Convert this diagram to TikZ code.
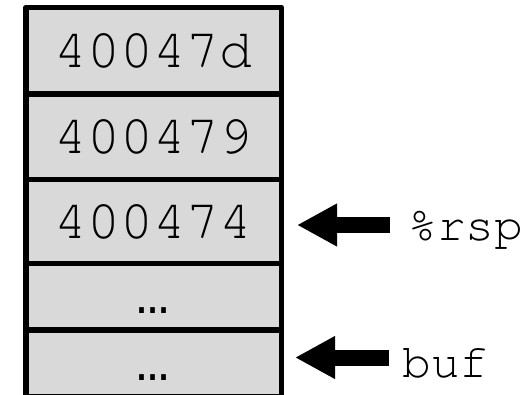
\documentclass[tikz,border=0pt]{standalone}
\usepackage[T1]{fontenc}
\usepackage{fontspec}
\newfontfamily\cour{Liberation Mono}
\newcommand\court{\fontencoding{T1}\fontfamily{pcr}\fontseries{m}\fontshape{n}\selectfont}
\usetikzlibrary{arrows.meta}
\definecolor{cellgray}{HTML}{D9D9D9}
\tikzset{
  cell/.style={draw=black, fill=cellgray, line width=5.5pt, line join=round,
    minimum width=255.5pt, inner sep=0pt, outer sep=0pt,
    font=\fontsize{55}{60}\court},
  lab/.style={inner sep=0pt, anchor=base west, font=\fontsize{48}{56}\court},
  bigarrow/.style={line width=16pt, -{Triangle[length=40pt,width=40pt]}}
}
\newcommand\dotsglyph{\vphantom{0}{\cour …}}
\begin{document}
\begin{tikzpicture}[x=1pt,y=1pt]
\useasboundingbox (0,0) rectangle (529,-394);
\begin{scope}
\clip (0,0) rectangle (529,-394);
\node[cell, minimum height=86.5pt] (c1) at (153.5,-50.75) {40047d};
\node[cell, minimum height=85.5pt] (c2) at (153.5,-136.75) {400479};
\node[cell, minimum height=84pt]   (c3) at (153.5,-221.5) {400474};
\node[cell, minimum height=66.5pt] (c4) at (153.5,-296.75) {\dotsglyph};
\node[cell, minimum height=67pt]   (c5) at (153.5,-363.5) {\dotsglyph};
\end{scope}
\node[lab] (rsp) at (408,-240) {\%rsp};
\node[lab] (buf) at (402,-377) {buf};
\coordinate (t1) at (297,-225);
\coordinate (t2) at (295,-357.5);
\draw[bigarrow, shorten <=18pt] (rsp.west |- t1) -- (t1);
\draw[bigarrow, shorten <=13pt] (buf.west |- t2) -- (t2);
\end{tikzpicture}
\end{document}
